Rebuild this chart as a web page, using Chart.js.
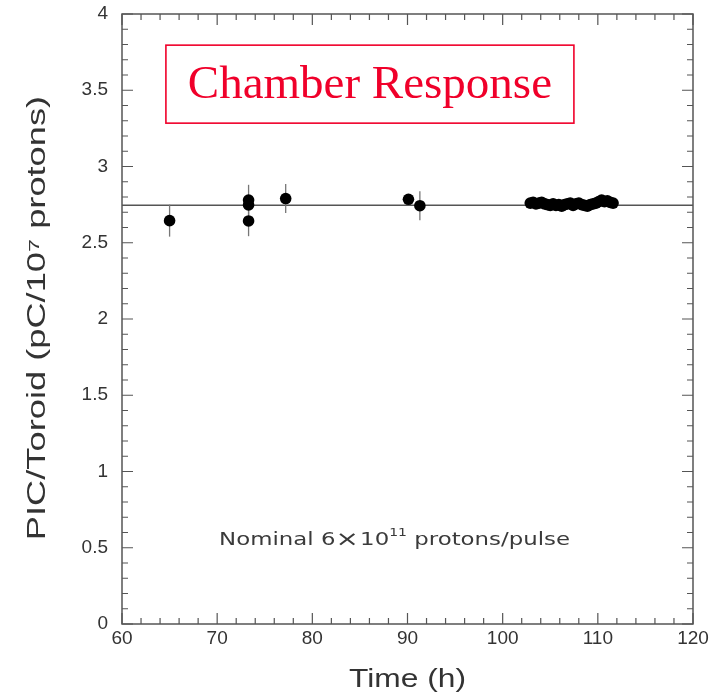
<!DOCTYPE html>
<html>
<head>
<meta charset="utf-8">
<script src="https://cdn.jsdelivr.net/npm/chart.js@4"></script>
<style>
    html, body { margin: 0; padding: 0; background: #fff; }
    #wrap { position: relative; width: 716px; height: 695px; }
</style>
</head>
<body>
<div id="wrap"><canvas id="plot"></canvas></div>
<script>
'use strict';

// Values
const timeH = [65.0, 73.3, 73.3, 73.3, 77.2, 90.1, 91.3,
    102.9, 103.2, 103.5, 103.8, 104.1, 104.4, 104.7, 105.0, 105.3, 105.6,
    105.9, 106.2, 106.5, 106.8, 107.1, 107.4, 107.7, 108.0, 108.3, 108.6,
    108.9, 109.2, 109.5, 109.8, 110.1, 110.4, 110.7, 111.0, 111.3, 111.6];
const ratio = [2.645, 2.643, 2.748, 2.78, 2.79, 2.785, 2.743,
    2.76, 2.765, 2.755, 2.76, 2.765, 2.755, 2.75, 2.745, 2.755, 2.745,
    2.75, 2.74, 2.75, 2.755, 2.76, 2.745, 2.755, 2.76, 2.75, 2.745,
    2.74, 2.75, 2.755, 2.76, 2.77, 2.78, 2.77, 2.775, 2.765, 2.76];
const ratioErr = [0.105, 0.10, 0.0, 0.10, 0.095, 0.03, 0.095,
    0, 0, 0, 0, 0, 0, 0, 0, 0, 0, 0, 0, 0, 0, 0, 0, 0, 0, 0, 0,
    0, 0, 0, 0, 0, 0, 0, 0, 0, 0];
const fitValue = 2.746;

const xRange = [60, 120];
const yRange = [0, 4];
const xMinorStep = 2;
const yMinorStep = 0.1;

const titleText = "Chamber Response";
const xTitle = "Time (h)";
const yTitle = "PIC/Toroid (pC/10\u2077 protons)";
const noteParts = ["Nominal 6", "\u00D7", "10", "11", " protons/pulse"];

const points = timeH.map((t, i) => ({ x: t, y: ratio[i] }));

const framePlugin = {
    id: "frame",
    beforeDatasetsDraw(chart) {
        const { ctx, chartArea: a, scales: { x, y } } = chart;
        ctx.save();

        // fit line
        ctx.strokeStyle = "#555";
        ctx.lineWidth = 1.4;
        ctx.beginPath();
        ctx.moveTo(a.left, y.getPixelForValue(fitValue));
        ctx.lineTo(a.right, y.getPixelForValue(fitValue));
        ctx.stroke();

        // error bars
        ctx.strokeStyle = "#777";
        ctx.lineWidth = 1.3;
        points.forEach((p, i) => {
            if (!ratioErr[i]) return;
            const px = x.getPixelForValue(p.x);
            ctx.beginPath();
            ctx.moveTo(px, y.getPixelForValue(p.y - ratioErr[i]));
            ctx.lineTo(px, y.getPixelForValue(p.y + ratioErr[i]));
            ctx.stroke();
        });
        ctx.restore();
    },
    afterDraw(chart) {
        const { ctx, chartArea: a, scales: { x, y } } = chart;
        ctx.save();
        ctx.strokeStyle = "#555";
        ctx.lineWidth = 1.5;
        ctx.strokeRect(a.left, a.top, a.right - a.left, a.bottom - a.top);

        // inward ticks on all four sides
        ctx.lineWidth = 1.2;
        ctx.beginPath();
        for (let v = xRange[0]; v <= xRange[1] + 1e-6; v += xMinorStep) {
            const px = x.getPixelForValue(v);
            const len = Math.abs(v % 10) < 1e-6 ? 11 : 6;
            ctx.moveTo(px, a.bottom); ctx.lineTo(px, a.bottom - len);
            ctx.moveTo(px, a.top); ctx.lineTo(px, a.top + len);
        }
        for (let i = 0; i <= Math.round((yRange[1] - yRange[0]) / yMinorStep); i++) {
            const v = yRange[0] + i * yMinorStep;
            const py = y.getPixelForValue(v);
            const len = i % 5 === 0 ? 11 : 6;
            ctx.moveTo(a.left, py); ctx.lineTo(a.left + len, py);
            ctx.moveTo(a.right, py); ctx.lineTo(a.right - len, py);
        }
        ctx.stroke();

        // axis titles (stretched along their length like the original)
        const sans = "'Liberation Sans', Arial, sans-serif";
        ctx.fillStyle = "#333";
        ctx.textAlign = "center";
        ctx.textBaseline = "middle";
        ctx.font = "25px " + sans;
        ctx.save();
        ctx.translate((a.left + a.right) / 2, 680);
        ctx.scale(1.27, 1);
        ctx.fillText(xTitle, 0, 0);
        ctx.restore();

        ctx.save();
        ctx.translate(38, 318);
        ctx.rotate(-Math.PI / 2);
        ctx.scale(1.45, 1);
        ctx.fillText(yTitle, 0, 0);
        ctx.restore();

        // title box
        const cx = x.getPixelForValue(86.05);
        const cy = y.getPixelForValue(3.54);
        ctx.font = "47px 'Liberation Serif', 'Times New Roman', serif";
        ctx.fillStyle = "#f0002a";
        ctx.fillText(titleText, cx, cy + 2);
        ctx.strokeStyle = "#f0002a";
        ctx.lineWidth = 1.6;
        ctx.strokeRect(cx - 204, cy - 39, 408, 78);

        // note text
        const nx0 = x.getPixelForValue(70.2);
        const ny = y.getPixelForValue(0.52);
        ctx.fillStyle = "#3a3a3a";
        ctx.textAlign = "left";
        ctx.textBaseline = "alphabetic";
        const base = "18px 'DejaVu Sans', sans-serif";
        const sup = "11px 'DejaVu Sans', sans-serif";
        const seq = [
            [noteParts[0], base, 0], [noteParts[1], "22px 'DejaVu Sans', sans-serif", 1],
            [noteParts[2], base, 0], [noteParts[3], sup, -9], [noteParts[4], base, 0]
        ];
        ctx.translate(nx0, ny);
        ctx.scale(1.27, 1);
        let nx = 0;
        seq.forEach(([txt, font, dy]) => {
            ctx.font = font;
            ctx.fillText(txt, nx, dy);
            nx += ctx.measureText(txt).width + (txt === "\u00D7" ? 1 : 0);
        });
        ctx.restore();
    }
};

const tickFont = { family: "'Liberation Sans', Arial, sans-serif", size: 19 };

new Chart(document.getElementById("plot"), {
    type: "scatter",
    data: {
        datasets: [{
            data: points,
            pointRadius: 5.8,
            pointBackgroundColor: "#000",
            pointBorderColor: "#000",
            pointBorderWidth: 0,
        }]
    },
    options: {
        responsive: true,
        maintainAspectRatio: false,
        animation: false,
        layout: { padding: { top: 14, right: 23, left: 0, bottom: 0 } },
        plugins: { legend: { display: false }, tooltip: { enabled: false } },
        scales: {
            x: {
                type: "linear",
                min: xRange[0],
                max: xRange[1],
                ticks: { stepSize: 10, color: "#333", font: tickFont, padding: 3, maxRotation: 0 },
                grid: { display: false, drawTicks: false },
                border: { display: false },
                afterFit(scale) {
                    scale.height = 71;
                    scale.paddingLeft = 0;
                    scale.paddingRight = 0;
                }
            },
            y: {
                type: "linear",
                min: yRange[0],
                max: yRange[1],
                ticks: {
                    stepSize: 0.5, color: "#333", font: tickFont, padding: 14,
                    callback: v => String(Math.round(v * 10) / 10)
                },
                grid: { display: false, drawTicks: false },
                border: { display: false },
                afterFit(scale) {
                    scale.width = 122;
                    scale.paddingTop = 0;
                    scale.paddingBottom = 0;
                }
            }
        }
    },
    plugins: [framePlugin]
});
</script>
</body>
</html>
